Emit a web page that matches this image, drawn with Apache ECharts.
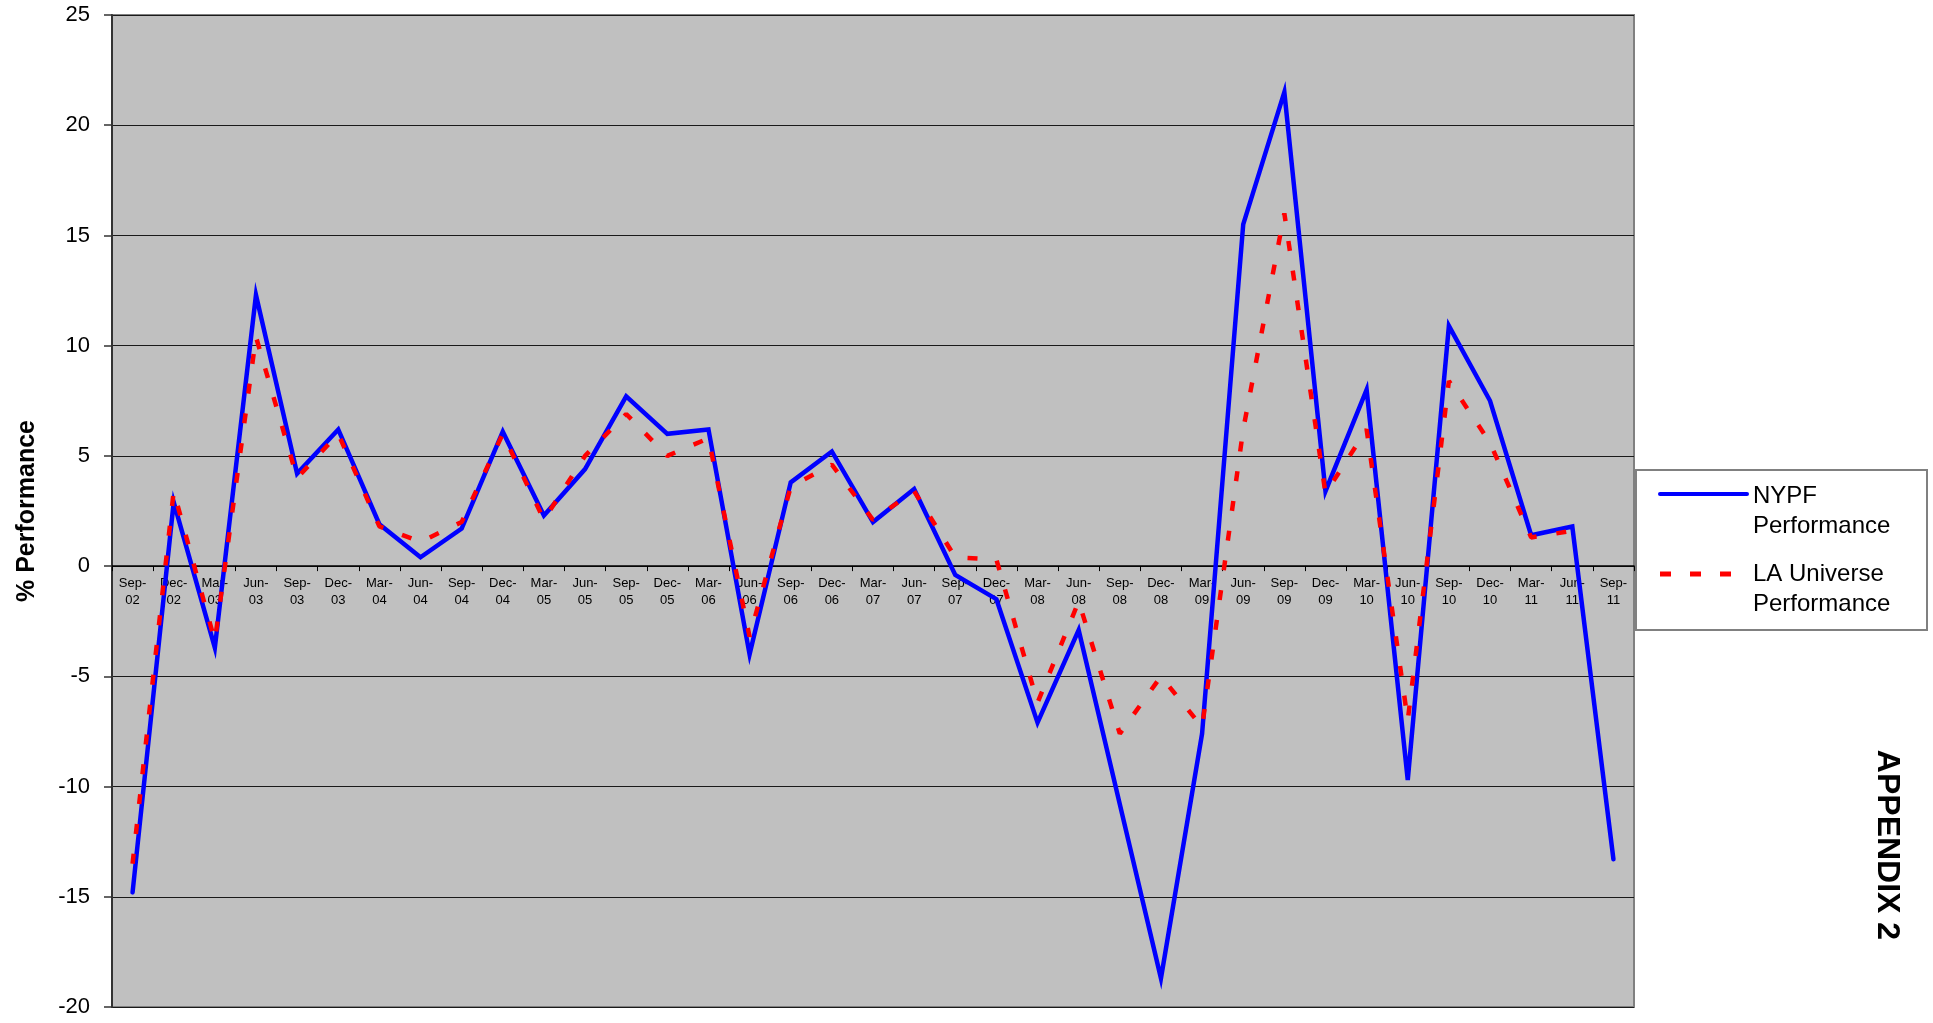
<!DOCTYPE html>
<html>
<head>
<meta charset="utf-8">
<title>NYPF vs LA Universe Performance</title>
<script src="https://cdn.jsdelivr.net/npm/echarts@6/dist/echarts.min.js"></script>
<style>
  html, body { margin: 0; padding: 0; background: #ffffff; }
  #chart { width: 1933px; height: 1023px; }
</style>
</head>
<body>
<div id="chart"></div>
<script>
// Quarter-end labels, Sep-02 through Sep-11
const quarters = [
  'Sep-\n02', 'Dec-\n02', 'Mar-\n03', 'Jun-\n03', 'Sep-\n03', 'Dec-\n03',
  'Mar-\n04', 'Jun-\n04', 'Sep-\n04', 'Dec-\n04', 'Mar-\n05', 'Jun-\n05',
  'Sep-\n05', 'Dec-\n05', 'Mar-\n06', 'Jun-\n06', 'Sep-\n06', 'Dec-\n06',
  'Mar-\n07', 'Jun-\n07', 'Sep-\n07', 'Dec-\n07', 'Mar-\n08', 'Jun-\n08',
  'Sep-\n08', 'Dec-\n08', 'Mar-\n09', 'Jun-\n09', 'Sep-\n09', 'Dec-\n09',
  'Mar-\n10', 'Jun-\n10', 'Sep-\n10', 'Dec-\n10', 'Mar-\n11', 'Jun-\n11',
  'Sep-\n11'
];

// Quarterly % performance
const nypfPerformance = [
  -14.8, 2.9, -3.7, 12.3, 4.2, 6.2,
  1.9, 0.4, 1.7, 6.1, 2.3, 4.4,
  7.7, 6.0, 6.2, -4.0, 3.8, 5.2,
  2.0, 3.5, -0.4, -1.5, -7.1, -2.9,
  -10.8, -18.7, -7.6, 15.5, 21.5, 3.4,
  8.0, -9.7, 10.9, 7.5, 1.4, 1.8,
  -13.3
];

const laUniversePerformance = [
  -13.5, 3.4, -3.4, 10.4, 4.0, 6.0,
  1.8, 1.1, 2.0, 6.0, 2.1, 5.0,
  6.9, 5.0, 5.8, -3.2, 3.6, 4.6,
  2.1, 3.4, 0.4, 0.3, -6.2, -1.6,
  -7.6, -5.0, -7.3, 6.2, 16.0, 3.3,
  6.2, -7.0, 8.4, 5.6, 1.3, 1.6,
  null
];

const seriesNames = ['NYPF Performance', 'LA Universe Performance'];
const yAxisTitle = '% Performance';
const sideNote = 'APPENDIX 2';

// Value scale
const Y_MIN = -20, Y_MAX = 25, Y_STEP = 5;

const FONT = '"Liberation Sans", Arial, sans-serif';
const BLUE = '#0000FF';
const RED = '#FF0000';

// Plot rectangle (pixels)
const GRID_LEFT = 112, GRID_RIGHT = 299, GRID_TOP = 15, GRID_BOTTOM = 16;
const CHART_H = 1023;
const plotH = CHART_H - GRID_TOP - GRID_BOTTOM;
// The category axis sits on the zero line: shift it up from the plot bottom
const zeroY = GRID_TOP + plotH * (Y_MAX - 0) / (Y_MAX - Y_MIN);
const xAxisOffset = -((CHART_H - GRID_BOTTOM) - zeroY);

const chart = echarts.init(document.getElementById('chart'), null, { renderer: 'canvas' });

// Legend box drawn at the right of the plot
const legendLeft = 1635, legendTop = 469, legendW = 291, legendH = 160;
const legendGraphics = {
  type: 'group',
  left: legendLeft,
  top: legendTop,
  children: [
    {
      type: 'rect',
      shape: { x: 0, y: 0, width: legendW, height: legendH },
      style: { fill: '#ffffff', stroke: '#808080', lineWidth: 2 }
    },
    {
      type: 'line',
      shape: { x1: 24, y1: 24, x2: 111, y2: 24 },
      style: { stroke: BLUE, lineWidth: 4, lineCap: 'round' }
    },
    {
      type: 'text',
      x: 117, y: 11,
      style: { text: 'NYPF\nPerformance', font: '24px ' + FONT, fill: '#000', lineHeight: 30 }
    },
    {
      type: 'line',
      shape: { x1: 24, y1: 104, x2: 111, y2: 104 },
      style: { stroke: RED, lineWidth: 5, lineDash: [11, 19] }
    },
    {
      type: 'text',
      x: 117, y: 89,
      style: { text: 'LA Universe\nPerformance', font: '24px ' + FONT, fill: '#000', lineHeight: 30 }
    }
  ]
};

const option = {
  animation: false,
  backgroundColor: '#ffffff',
  textStyle: { fontFamily: FONT },
  grid: {
    left: GRID_LEFT,
    right: GRID_RIGHT,
    top: GRID_TOP,
    bottom: GRID_BOTTOM,
    containLabel: false,
    outerBoundsMode: 'none',
    show: true,
    backgroundColor: '#C0C0C0',
    borderColor: '#808080',
    borderWidth: 2
  },
  xAxis: {
    type: 'category',
    data: quarters,
    boundaryGap: true,
    position: 'bottom',
    offset: xAxisOffset,
    axisLine: { onZero: false, lineStyle: { color: '#000000', width: 1.5 } },
    axisTick: { show: true, alignWithLabel: false, length: 5, lineStyle: { color: '#000000' } },
    axisLabel: {
      interval: 0,
      fontSize: 13,
      lineHeight: 17,
      color: '#000000',
      margin: 9,
      fontFamily: FONT
    },
    splitLine: { show: false }
  },
  yAxis: {
    type: 'value',
    min: Y_MIN,
    max: Y_MAX,
    interval: Y_STEP,
    name: yAxisTitle,
    nameLocation: 'middle',
    nameRotate: 90,
    nameGap: 72,
    nameTextStyle: { fontSize: 25, fontWeight: 'bold', color: '#000000', fontFamily: FONT },
    axisLine: { show: true, lineStyle: { color: '#333333', width: 2 } },
    axisTick: { show: true, length: 8, lineStyle: { color: '#333333', width: 1.5 } },
    axisLabel: { fontSize: 22, color: '#000000', margin: 22, fontFamily: FONT },
    splitLine: { show: true, lineStyle: { color: '#1a1a1a', width: 1.2 } }
  },
  series: [
    {
      name: seriesNames[0],
      type: 'line',
      data: nypfPerformance,
      showSymbol: false,
      symbol: 'none',
      lineStyle: { color: BLUE, width: 4.5, cap: 'round', join: 'miter' },
      itemStyle: { color: BLUE },
      z: 3
    },
    {
      name: seriesNames[1],
      type: 'line',
      data: laUniversePerformance,
      showSymbol: false,
      symbol: 'none',
      connectNulls: false,
      lineStyle: { color: RED, width: 4.5, type: [10, 20] },
      itemStyle: { color: RED },
      z: 4
    }
  ],
  graphic: [
    legendGraphics,
    {
      type: 'text',
      x: 1887,
      y: 845,
      rotation: -Math.PI / 2,
      style: {
        text: sideNote,
        font: 'bold 32px ' + FONT,
        fill: '#000000',
        textAlign: 'center',
        textVerticalAlign: 'middle'
      }
    }
  ]
};

chart.setOption(option);
</script>
</body>
</html>
